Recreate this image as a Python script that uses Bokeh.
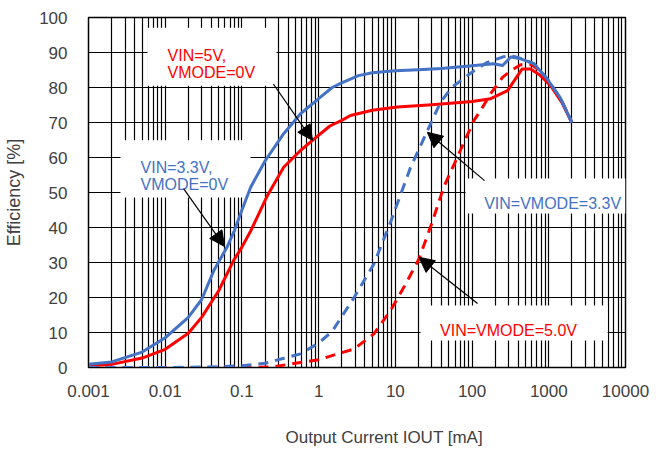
import math
from bokeh.plotting import figure
from bokeh.models import FixedTicker, Label, Arrow, NormalHead, Range1d, Title
from bokeh.embed import file_html
from bokeh.resources import INLINE

# ---------------- data ----------------
x_tick_values = [0.001, 0.01, 0.1, 1, 10, 100, 1000, 10000]
x_tick_labels = ["0.001", "0.01", "0.1", "1", "10", "100", "1000", "10000"]
y_tick_values = [0, 10, 20, 30, 40, 50, 60, 70, 80, 90, 100]

# VIN=3.3V, VMODE=0V (blue solid)
b_solid_x = [0.001, 0.002, 0.005, 0.01, 0.02, 0.03, 0.043, 0.064, 0.08, 0.1, 0.13, 0.2,
             0.35, 0.58, 1, 1.5, 2, 3.3, 5, 10, 20, 40, 100, 190, 250, 320, 430, 640,
             950, 1400, 2000]
b_solid_y = [0.9, 1.6, 4.4, 8.5, 14.3, 19.5, 27.7, 34.4, 39.2, 45, 51.5, 59,
             66.8, 72.5, 76.8, 80, 81.3, 83.4, 84.2, 84.8, 85.1, 85.4, 86.2, 86.8, 86.3, 88.7, 88.2, 86.8,
             82.5, 77.2, 70]

# VIN=5V, VMODE=0V (red solid)
r_solid_x = [0.001, 0.002, 0.005, 0.01, 0.02, 0.03, 0.05, 0.078, 0.1, 0.13, 0.21, 0.35,
             0.58, 0.83, 1.4, 2, 2.6, 5, 10.6, 30, 100, 175, 290, 450, 580, 780, 1050,
             1500, 2000]
r_solid_y = [0.4, 0.9, 2.7, 5.2, 9.8, 14.4, 22, 30.6, 34.4, 39, 48.7, 57.2,
             62, 64.9, 69, 70.6, 72, 73.5, 74.4, 75.1, 76, 76.8, 79.1, 85.3, 85.3, 83.4, 80.6,
             75.5, 70]

# VIN=VMODE=3.3V (blue dashed)
b_dash_x = [0.001, 0.01, 0.05, 0.1, 0.2, 0.58, 1, 1.5, 2.9, 5.25, 8.65, 15.8, 28.8, 38.8,
            55, 106, 158, 249, 318, 430, 640, 950, 1400, 2000]
b_dash_y = [0, 0, 0.2, 0.5, 1.2, 3.9, 7, 10.3, 20, 29.6, 41.5, 57.2, 69.6, 75.8,
            80.1, 84.8, 87.2, 88.7, 89.2, 88.3, 86.8, 82.5, 77.2, 70]

# VIN=VMODE=5.0V (red dashed)
r_dash_x = [0.001, 0.1, 0.26, 0.43, 1, 1.6, 2.9, 5.25, 8.65, 12.9, 20.3, 30.2, 42.7, 64,
            82, 106, 129, 174, 249, 332, 430, 600, 800, 1000, 1500, 2000]
r_dash_y = [0, 0, 0.2, 1, 2.2, 3.6, 5.3, 9.6, 16.3, 22.9, 31, 41.5, 51.5, 60,
            65.3, 70.6, 73.4, 78.2, 82.9, 85, 86.5, 86.5, 84.5, 81.8, 75.8, 70]

BLUE = "#4472C4"
RED = "#FF0000"
TXT = "#404040"
FONT = "Liberation Sans"

p = figure(x_axis_type="log", x_range=Range1d(0.001, 10000), y_range=Range1d(0, 100),
           frame_width=537, frame_height=350,
           min_border_left=88, min_border_right=40, min_border_top=17, min_border_bottom=90,
           output_backend="svg", toolbar_location=None)
p.background_fill_color = "white"
p.border_fill_color = "white"
p.outline_line_color = "black"
p.outline_line_width = 1.5

minor = []
for d in range(-3, 4):
    for m in range(2, 10):
        minor.append(m * 10 ** d)
p.xaxis.ticker = FixedTicker(ticks=x_tick_values, minor_ticks=minor)
p.xaxis.major_label_overrides = {v: l for v, l in zip(x_tick_values, x_tick_labels)}
p.yaxis.ticker = FixedTicker(ticks=y_tick_values)

for ax in (p.xaxis[0], p.yaxis[0]):
    ax.major_tick_line_color = None
    ax.minor_tick_line_color = None
    ax.axis_line_color = "black"
    ax.major_label_text_font = FONT
    ax.major_label_text_font_size = "17px"
    ax.major_label_text_color = TXT
p.yaxis.major_label_standoff = 15
p.xaxis.major_label_standoff = 11

p.yaxis.axis_label = "Efficiency [%]"
p.yaxis.axis_label_text_font = FONT
p.yaxis.axis_label_text_font_size = "18px"
p.yaxis.axis_label_text_font_style = "normal"
p.yaxis.axis_label_text_color = TXT
p.yaxis.axis_label_standoff = 12

for g in (p.xgrid[0], p.ygrid[0]):
    g.grid_line_color = "black"
    g.grid_line_width = 1.2
    g.grid_line_alpha = 1.0
p.xgrid.minor_grid_line_color = "black"
p.xgrid.minor_grid_line_width = 1.2

# white annotation boxes (cover the grid)
box_left = [0.00587, 0.00261, 82.2, 21.3]
box_right = [0.2824, 0.1294, 10000, 5852]
box_top = [97.1, 64.9, 54.0, 17.7]
box_bottom = [80.5, 48.6, 44.0, 7.7]
p.quad(left=box_left, right=box_right, top=box_top, bottom=box_bottom,
       fill_color="white", line_color=None)

# curves
p.line(r_dash_x, r_dash_y, line_color=RED, line_width=3, line_dash="10 7")
p.line(r_solid_x, r_solid_y, line_color=RED, line_width=3, line_join="round")
p.line(b_dash_x, b_dash_y, line_color=BLUE, line_width=3, line_dash="10 7")
p.line(b_solid_x, b_solid_y, line_color=BLUE, line_width=3, line_join="round")

# annotation texts
def lab(x, y, text, color, align="left", size="16px"):
    p.add_layout(Label(x=x, y=y, text=text, text_color=color, text_font=FONT,
                       text_font_size=size, text_align=align, text_baseline="alphabetic"))

lab(0.01072, 89.1, "VIN=5V,", RED)
lab(0.01072, 84.3, "VMODE=0V", RED)
lab(0.004764, 57.1, "VIN=3.3V,", BLUE)
lab(0.004764, 52.4, "VMODE=0V", BLUE)
lab(1122, 46.9, "VIN=VMODE=3.3V", BLUE, align="center")
lab(299, 10.6, "VIN=VMODE=5.0V", RED, align="center")

# arrows
arrows = [
    (0.257, 81.0, 0.832, 64.9),
    (0.01735, 51.1, 0.0592, 34.6),
    (145.5, 53.4, 26.1, 67.2),
    (118.0, 18.3, 20.3, 31.5),
]
for xs, ys, xe, ye in arrows:
    p.add_layout(Arrow(end=NormalHead(size=15, fill_color="black", line_color="black"),
                       x_start=xs, y_start=ys, x_end=xe, y_end=ye,
                       line_color="black", line_width=1.2))

# x axis title as a title panel below the axis
xt = Title(text="Output Current IOUT [mA]", align="left", offset=197, standoff=53,
           text_font=FONT, text_font_size="17px", text_font_style="normal",
           text_color=TXT)
p.add_layout(xt, "below")

open("out.html", "w").write(file_html(p, INLINE))
